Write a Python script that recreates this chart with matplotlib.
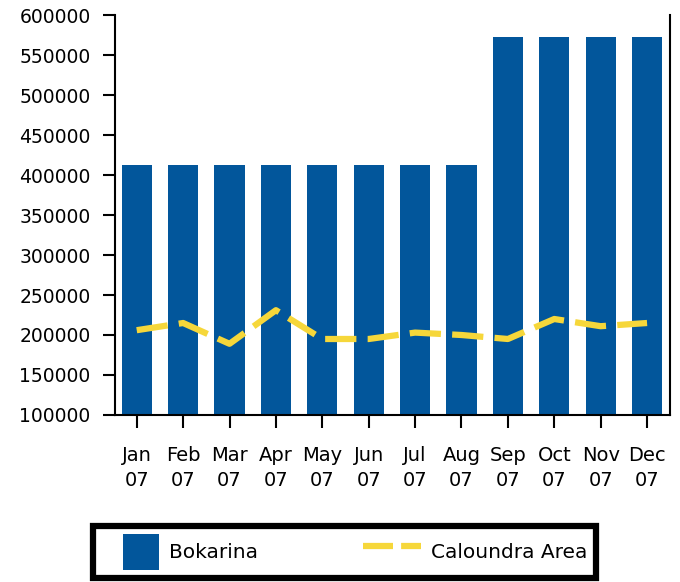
import matplotlib
matplotlib.use('Agg')
import matplotlib.pyplot as plt
from matplotlib.patches import Patch, Rectangle
from matplotlib.lines import Line2D
from matplotlib.legend_handler import HandlerPatch

months = ['Jan\n07', 'Feb\n07', 'Mar\n07', 'Apr\n07', 'May\n07', 'Jun\n07',
          'Jul\n07', 'Aug\n07', 'Sep\n07', 'Oct\n07', 'Nov\n07', 'Dec\n07']
bokarina = [412500, 412500, 412500, 412500, 412500, 412500,
            412500, 412500, 572500, 572500, 572500, 572500]
caloundra = [206000, 215000, 189000, 231000, 195000, 195000,
             203000, 200000, 195000, 220000, 211000, 215000]
yticks = [100000, 150000, 200000, 250000, 300000, 350000,
          400000, 450000, 500000, 550000, 600000]

plt.rcParams['font.family'] = ['DejaVu Sans']

BLUE = '#02569b'
GOLD = '#f6d73a'

fig = plt.figure(figsize=(6.8, 5.82), dpi=100)
ax = fig.add_axes([0.169, 0.287, 0.816, 0.687])

x = list(range(len(months)))
ax.bar(x, bokarina, width=0.65, color=BLUE, zorder=2)
ax.plot(x, caloundra, color=GOLD, lw=4.5, dashes=(5, 1.8), zorder=3,
        dash_capstyle='butt')

ax.set_xlim(-0.47, 11.49)
ax.set_ylim(100000, 600000)
ax.set_yticks(yticks)
ax.set_yticklabels([str(v) for v in yticks])
ax.set_xticks(x)
ax.set_xticklabels(months, linespacing=1.45)

ax.spines['top'].set_visible(False)
for s in ['left', 'bottom', 'right']:
    ax.spines[s].set_linewidth(1.5)
ax.tick_params(axis='y', direction='out', length=9, width=1.5, labelsize=13.5, pad=8.5)
ax.tick_params(axis='x', direction='out', length=9, width=1.5, labelsize=14, pad=13)


# square sits at the right end of the handle box
def square_right(legend, orig_handle, xdescent, ydescent, width, height, fontsize):
    side = height
    return Rectangle((width - side - xdescent, -ydescent), side, height)


handles = [Patch(facecolor=BLUE, edgecolor='none'),
           Line2D([0], [0], color=GOLD, lw=4.5, dashes=(4.8, 1.3))]
leg = fig.legend(handles, ['Bokarina', 'Caloundra Area'], loc='center',
                 bbox_to_anchor=(0.506, 0.052), ncol=2, frameon=True,
                 fancybox=False, framealpha=1, fontsize=14.5,
                 handlelength=2.9, handleheight=2.4,
                 columnspacing=5.2, borderpad=0.4, handletextpad=0.5,
                 handler_map={Patch: HandlerPatch(patch_func=square_right)})
leg.get_frame().set_edgecolor('black')
leg.get_frame().set_linewidth(4.5)

plt.savefig('out.png', dpi=100)
